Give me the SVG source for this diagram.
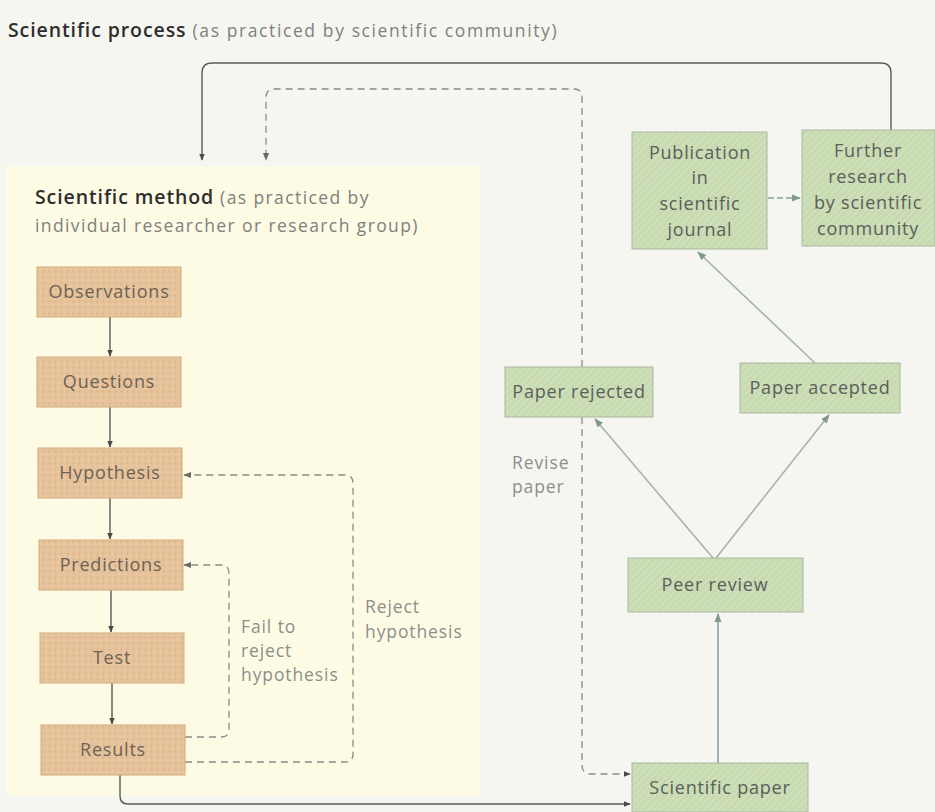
<svg xmlns="http://www.w3.org/2000/svg" width="935" height="812" viewBox="0 0 935 812">
<style>
  text { font-family: "Open Sans", "Noto Sans", "DejaVu Sans", sans-serif; }
  .hd { font-weight: 600; fill: #2e2e2e; font-size: 19.5px; letter-spacing: 0.9px; }
  .sub { fill: #808080; font-size: 17.5px; letter-spacing: 1.4px; }
  .wide { letter-spacing: 1.6px; }
  .otxt { font-size: 18px; fill: #6e6257; text-anchor: middle; letter-spacing: 0.8px; }
  .gtxt { font-size: 18px; fill: #5a605a; text-anchor: middle; letter-spacing: 0.8px; }
  .lbl { font-size: 17.5px; fill: #8e8e8e; letter-spacing: 0.9px; }
  .obox { fill: url(#orangeTex); stroke: #d3ab80; stroke-width: 1; }
  .gbox { fill: url(#greenTex); stroke: #a9b8a3; stroke-width: 1; }
  .solid { fill: none; stroke: #5a5a5a; stroke-width: 1.4; }
  .dash { fill: none; stroke: #8a8a8a; stroke-width: 1.3; stroke-dasharray: 7 5; }
  .green { fill: none; stroke: #a3b6a6; stroke-width: 1.6; }
</style>
<defs>
  <pattern id="greenTex" width="5" height="5" patternUnits="userSpaceOnUse" patternTransform="rotate(45)">
    <rect width="5" height="5" fill="#c7dab0"/>
    <line x1="0" y1="0" x2="0" y2="5" stroke="#d9e6c9" stroke-width="1.6"/>
  </pattern>
  <pattern id="orangeTex" width="6" height="6" patternUnits="userSpaceOnUse">
    <rect width="6" height="6" fill="#e6c39b"/>
    <circle cx="1.5" cy="1.5" r="0.9" fill="#d9b086"/>
    <circle cx="4.5" cy="4" r="0.8" fill="#eed2b2"/>
  </pattern>
  <marker id="arrDark" viewBox="0 0 10 10" refX="9" refY="5" markerWidth="7" markerHeight="7" orient="auto-start-reverse" markerUnits="userSpaceOnUse">
    <path d="M0,1 L10,5 L0,9 Z" fill="#4a4a4a"/>
  </marker>
  <marker id="arrGrey" viewBox="0 0 10 10" refX="9" refY="5" markerWidth="8" markerHeight="8" orient="auto-start-reverse" markerUnits="userSpaceOnUse">
    <path d="M0,1 L10,5 L0,9 Z" fill="#6a6a6a"/>
  </marker>
  <marker id="arrGreen" viewBox="0 0 10 10" refX="9" refY="5" markerWidth="9" markerHeight="9" orient="auto-start-reverse" markerUnits="userSpaceOnUse">
    <path d="M0,1 L10,5 L0,9 Z" fill="#7f9a8c"/>
  </marker>
</defs>

<rect x="0" y="0" width="935" height="812" fill="#f6f6f1"/>

<!-- Title -->
<g id="title">
  <text x="8" y="37"><tspan class="hd">Scientific process</tspan><tspan class="sub wide"> (as practiced by scientific community)</tspan></text>
</g>

<!-- Scientific method panel -->
<g id="method-panel">
  <rect x="6" y="166" width="474" height="629" fill="#fdfbe3"/>
  <text x="35" y="204"><tspan class="hd">Scientific method</tspan><tspan class="sub"> (as practiced by</tspan></text>
  <text x="35" y="232" class="sub">individual researcher or research group)</text>
</g>

<!-- Connectors -->
<g id="connectors">
  <line class="solid" x1="110" y1="317" x2="110" y2="356" marker-end="url(#arrDark)" stroke="#8a8a8a"/>
  <line class="solid" x1="110" y1="407" x2="110" y2="447" marker-end="url(#arrDark)"/>
  <line class="solid" x1="110" y1="498" x2="110" y2="539" marker-end="url(#arrDark)"/>
  <line class="solid" x1="111" y1="590" x2="111" y2="632" marker-end="url(#arrDark)"/>
  <line class="solid" x1="112" y1="683" x2="112" y2="724" marker-end="url(#arrDark)"/>
  <path class="dash" d="M185,737 H221 Q229,737 229,729 V573 Q229,565 221,565 H184" marker-end="url(#arrGrey)"/>
  <path class="dash" d="M185,762 H345 Q353,762 353,754 V483 Q353,475 345,475 H184" marker-end="url(#arrGrey)"/>
  <path class="solid" d="M120,775 V796 Q120,804 128,804 H630" marker-end="url(#arrDark)"/>
  <path class="solid" d="M891,130 V73 Q891,63 881,63 H212 Q202,63 202,73 V160" marker-end="url(#arrDark)"/>
  <path class="dash" d="M582,367 V97 Q582,89 574,89 H274 Q266,89 266,97 V160" marker-end="url(#arrGrey)"/>
  <path class="dash" d="M582,417 V765 Q582,774 591,774 H630" marker-end="url(#arrDark)"/>
  <line x1="768" y1="198" x2="800" y2="198" stroke="#8aa39a" stroke-width="1.4" stroke-dasharray="6 3" marker-end="url(#arrGreen)"/>
  <line class="green" x1="713" y1="558" x2="595" y2="419" marker-end="url(#arrGreen)"/>
  <line class="green" x1="716" y1="558" x2="829" y2="415" marker-end="url(#arrGreen)"/>
  <line class="green" x1="815" y1="363" x2="698" y2="252" marker-end="url(#arrGreen)"/>
  <line x1="718" y1="763" x2="718" y2="614" stroke="#8d9fae" stroke-width="1.6" marker-end="url(#arrGreen)"/>
</g>

<!-- Method nodes -->
<g id="observations"><rect class="obox" x="37" y="267" width="144" height="50"/><text class="otxt" x="109" y="298">Observations</text></g>
<g id="questions"><rect class="obox" x="37" y="357" width="144" height="50"/><text class="otxt" x="109" y="388">Questions</text></g>
<g id="hypothesis"><rect class="obox" x="38" y="448" width="144" height="50"/><text class="otxt" x="110" y="479">Hypothesis</text></g>
<g id="predictions"><rect class="obox" x="39" y="540" width="144" height="50"/><text class="otxt" x="111" y="571">Predictions</text></g>
<g id="test"><rect class="obox" x="40" y="633" width="144" height="50"/><text class="otxt" x="112" y="664">Test</text></g>
<g id="results"><rect class="obox" x="41" y="725" width="144" height="50"/><text class="otxt" x="113" y="756">Results</text></g>

<!-- Loop labels -->
<g id="label-fail">
  <text class="lbl" x="241" y="633">Fail to</text>
  <text class="lbl" x="241" y="657">reject</text>
  <text class="lbl" x="241" y="681">hypothesis</text>
</g>
<g id="label-reject">
  <text class="lbl" x="365" y="613">Reject</text>
  <text class="lbl" x="365" y="638">hypothesis</text>
</g>
<g id="label-revise">
  <text class="lbl" x="512" y="469">Revise</text>
  <text class="lbl" x="512" y="493">paper</text>
</g>

<!-- Community nodes -->
<g id="publication">
  <rect class="gbox" x="632" y="132" width="135" height="117"/>
  <text class="gtxt" x="700" y="159">Publication</text>
  <text class="gtxt" x="700" y="184">in</text>
  <text class="gtxt" x="700" y="210">scientific</text>
  <text class="gtxt" x="700" y="236">journal</text>
</g>
<g id="further-research">
  <rect class="gbox" x="802" y="130" width="133" height="116"/>
  <text class="gtxt" x="868" y="157">Further</text>
  <text class="gtxt" x="868" y="183">research</text>
  <text class="gtxt" x="868" y="209">by scientific</text>
  <text class="gtxt" x="868" y="235">community</text>
</g>
<g id="paper-rejected"><rect class="gbox" x="505" y="367" width="148" height="50"/><text class="gtxt" x="579" y="398">Paper rejected</text></g>
<g id="paper-accepted"><rect class="gbox" x="740" y="363" width="160" height="50"/><text class="gtxt" x="820" y="394">Paper accepted</text></g>
<g id="peer-review"><rect class="gbox" x="628" y="558" width="175" height="54"/><text class="gtxt" x="715" y="591">Peer review</text></g>
<g id="scientific-paper"><rect class="gbox" x="632" y="763" width="176" height="49"/><text class="gtxt" x="720" y="794">Scientific paper</text></g>
</svg>
